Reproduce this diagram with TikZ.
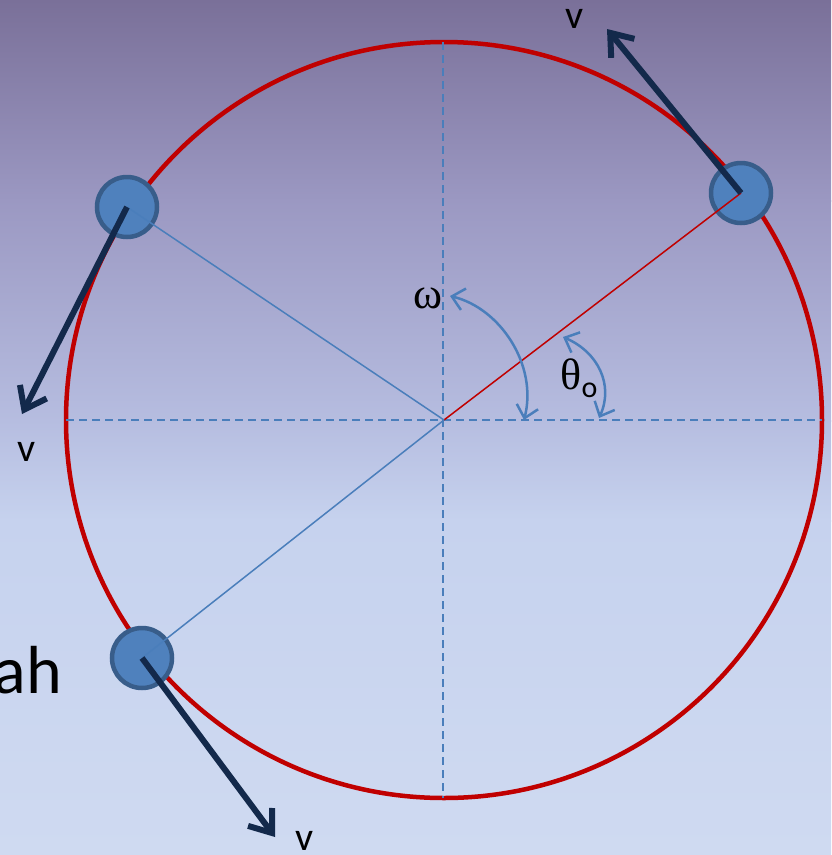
\documentclass[tikz,border=0pt]{standalone}
\usepackage{fontspec}
\setmainfont{Liberation Serif}
\newfontfamily\calfont{Carlito}
\usetikzlibrary{arrows.meta}
\definecolor{bgA}{HTML}{7A7099}
\definecolor{bgB}{HTML}{9B98C2}
\definecolor{bgC}{HTML}{B6BDE0}
\definecolor{bgD}{HTML}{C6D2EE}
\definecolor{bgE}{HTML}{CFDAF1}
\definecolor{ringred}{HTML}{C00000}
\definecolor{ballfill}{HTML}{4F81BD}
\definecolor{ballrim}{HTML}{385D8A}
\definecolor{navy}{HTML}{13294B}
\definecolor{lineblue}{HTML}{4A7EBB}
\tikzset{
  ball/.style={circle,fill=ballfill,draw=ballrim,line width=4.5pt,minimum size=60pt,inner sep=0pt},
  velarrow/.style={navy,line width=6pt,-{Straight Barb[length=20pt,width=30pt]}},
  radline/.style={line width=1.5pt},
  axisline/.style={lineblue,line width=1.8pt,dash pattern=on 8pt off 5pt},
  arcarrow/.style={lineblue,line width=2.5pt,{Straight Barb[length=12pt,width=22pt]}-{Straight Barb[length=12pt,width=22pt]}},
  vlabel/.style={font=\calfont\fontsize{40}{40}\selectfont,inner sep=0pt},
  greek/.style={font=\fontsize{44}{44}\selectfont,inner sep=0pt}
}
\begin{document}
\begin{tikzpicture}[x=1pt,y=-1pt]
\useasboundingbox (0,0) rectangle (831,855);
\clip (0,0) rectangle (831,855);
% background
\shade[top color=bgA,bottom color=bgB] (0,0) rectangle (831,201);
\shade[top color=bgB,bottom color=bgC] (0,200) rectangle (831,421);
\shade[top color=bgC,bottom color=bgD] (0,420) rectangle (831,521);
\shade[top color=bgD,bottom color=bgE] (0,520) rectangle (831,855);
% circle
\coordinate (O) at (444,420);
\draw[ringred,line width=4.5pt] (O) circle (378);
% axes
\coordinate (vtop) at (443,42);
\coordinate (vbot) at (443,798);
\coordinate (hl) at (66,420);
\coordinate (hr) at (822,420);
\draw[axisline] (vtop) -- (vbot);
\draw[axisline] (hl) -- (hr);
% balls
\node[ball] (tr) at (741,193) {};
\node[ball] (tl) at (127,207) {};
\node[ball] (bl) at (142,658) {};
% radius lines
\draw[radline,ringred] (O) -- (tr.center);
\draw[radline,lineblue] (O) -- (tl.center);
\draw[radline,lineblue] (O) -- (bl.center);
% velocity arrows
\coordinate (trtip) at (607,29);
\coordinate (tltip) at (22,414);
\coordinate (bltip) at (275,837);
\draw[velarrow] (tr.center) -- (trtip);
\draw[velarrow] (tl.center) -- (tltip);
\draw[velarrow] (bl.center) -- (bltip);
\node[vlabel] (v1) at (575,19) {v};
\node[vlabel] (v2) at (27,452) {v};
\node[vlabel] (v3) at (305,841) {v};
% angle arcs
\coordinate (wa) at (450,296);
\coordinate (wb) at (524,420);
\draw[arcarrow] (wa) .. controls (500,308) and (538,365) .. (wb);
\coordinate (ta) at (563,337);
\coordinate (tb) at (599,418);
\draw[arcarrow] (ta) .. controls (598,352) and (614,385) .. (tb);
\node[greek] (omega) at (428,298) {ω};
\node[greek,anchor=center] (theta) at (579,378) {θ\raisebox{-8pt}{\calfont\fontsize{30}{30}\selectfont o}};
% partial text at left
\node[font=\calfont\fontsize{68}{68}\selectfont,anchor=base east,inner sep=0pt] (ah) at (62,693) {ah};
\end{tikzpicture}
\end{document}
